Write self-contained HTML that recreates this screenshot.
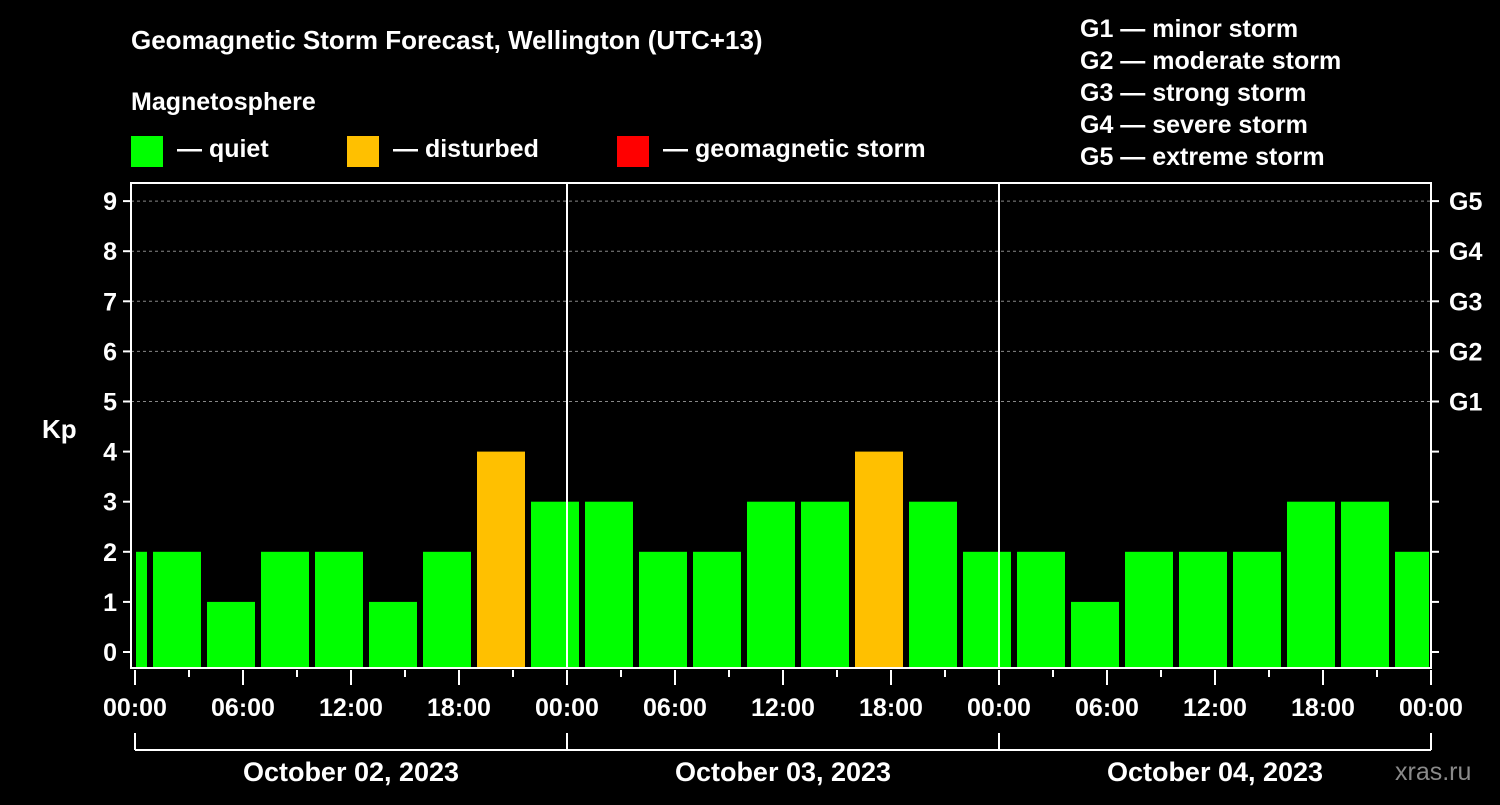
<!DOCTYPE html>
<html><head><meta charset="utf-8"><style>
body{margin:0;background:#000;width:1500px;height:800px;overflow:hidden;font-family:"Liberation Sans",Arial,sans-serif;}
svg text{font-family:"Liberation Sans",Arial,sans-serif;font-weight:bold;fill:#fff;}
</style></head><body>
<svg id="c" width="1500" height="800">
<text x="131" y="49" font-size="26">Geomagnetic Storm Forecast, Wellington (UTC+13)</text>
<text x="131" y="110" font-size="25">Magnetosphere</text>
<g><rect x="131" y="136" width="32" height="31" fill="#00ff00"/><text x="177" y="157" font-size="25">— quiet</text></g>
<g><rect x="347" y="136" width="32" height="31" fill="#ffc000"/><text x="393" y="157" font-size="25">— disturbed</text></g>
<g><rect x="617" y="136" width="32" height="31" fill="#ff0000"/><text x="663" y="157" font-size="25">— geomagnetic storm</text></g>
<g font-size="25">
<text x="1080" y="37">G1 — minor storm</text><text x="1080" y="69">G2 — moderate storm</text><text x="1080" y="101">G3 — strong storm</text><text x="1080" y="133">G4 — severe storm</text><text x="1080" y="165">G5 — extreme storm</text></g>
<text x="42" y="438" font-size="26">Kp</text>
<text x="1395" y="780" font-size="25" fill="#888" style="fill:#8a8a8a;font-weight:normal">xras.ru</text>
<g id="plot"></g>
</svg>
<script>
const values=[2,2,1,2,2,1,2,4,3,3,2,2,3,3,4,3,2,2,1,2,2,2,3,3,2];
const disturbed=[false,false,false,false,false,false,false,true,false,false,false,false,false,false,true,false,false,false,false,false,false,false,false,false,false];
const hourLabels=["00:00","06:00","12:00","18:00","00:00","06:00","12:00","18:00","00:00","06:00","12:00","18:00","00:00"];
const dayLabels=["October 02, 2023","October 03, 2023","October 04, 2023"];
const gLabels=["G1","G2","G3","G4","G5"];
const NS="http://www.w3.org/2000/svg";
const g=document.getElementById('plot');
const X0=135,PX_H=18,L=131,R=1431,T=183,B=668;
const xh=h=>X0+h*PX_H;
const y=v=>652-50.1*v;
function el(t,a,p){const e=document.createElementNS(NS,t);for(const k in a)e.setAttribute(k,a[k]);(p||g).appendChild(e);return e;}
// grid
for(let v=5;v<=9;v++){const l=el('line',{x1:L,x2:R,y1:y(v),y2:y(v),stroke:'#888','stroke-dasharray':'3,3','stroke-width':1});

}
// bars
values.forEach((v,i)=>{let x1=xh(i*3-2),x2=x1+48;x1=Math.max(x1,X0+1);x2=Math.min(x2,R-2);
const r=el('rect',{x:x1,y:y(v),width:x2-x1,height:B-y(v),fill:disturbed[i]?'#ffc000':'#00ff00'});

});
// day separators
[1,2].forEach(d=>{const l=el('line',{x1:xh(d*24),x2:xh(d*24),y1:T,y2:B,stroke:'#fff','stroke-width':2});

});
// frame
const f=el('rect',{x:L,y:T,width:R-L,height:B-T,fill:'none',stroke:'#fff','stroke-width':2});


// y ticks
for(let v=0;v<=9;v++){el('line',{x1:L-8,x2:L,y1:y(v),y2:y(v),stroke:'#fff','stroke-width':2});
el('line',{x1:R,x2:R+8,y1:y(v),y2:y(v),stroke:'#fff','stroke-width':2});
const t=el('text',{x:L-14,y:y(v)+9,'font-size':25,'text-anchor':'end'});t.textContent=v;

}
gLabels.forEach((s,i)=>{const t=el('text',{x:1449,y:y(i+5)+9,'font-size':25});t.textContent=s;

});
// x ticks
for(let h=0;h<=72;h+=3){const big=h%6===0;el('line',{x1:xh(h),x2:xh(h),y1:B+2,y2:big?685:677,stroke:'#fff','stroke-width':2});}
hourLabels.forEach((s,i)=>{const t=el('text',{x:xh(i*6),y:716,'font-size':25,'text-anchor':'middle'});t.textContent=s;

});
// date bracket
el('line',{x1:xh(0),x2:xh(72),y1:750,y2:750,stroke:'#fff','stroke-width':2});
for(let d=0;d<=3;d++)el('line',{x1:xh(d*24),x2:xh(d*24),y1:733,y2:750,stroke:'#fff','stroke-width':2});
dayLabels.forEach((s,i)=>{const t=el('text',{x:xh(i*24+12),y:781,'font-size':27,'text-anchor':'middle'});t.textContent=s;

});
</script>
</body></html>
